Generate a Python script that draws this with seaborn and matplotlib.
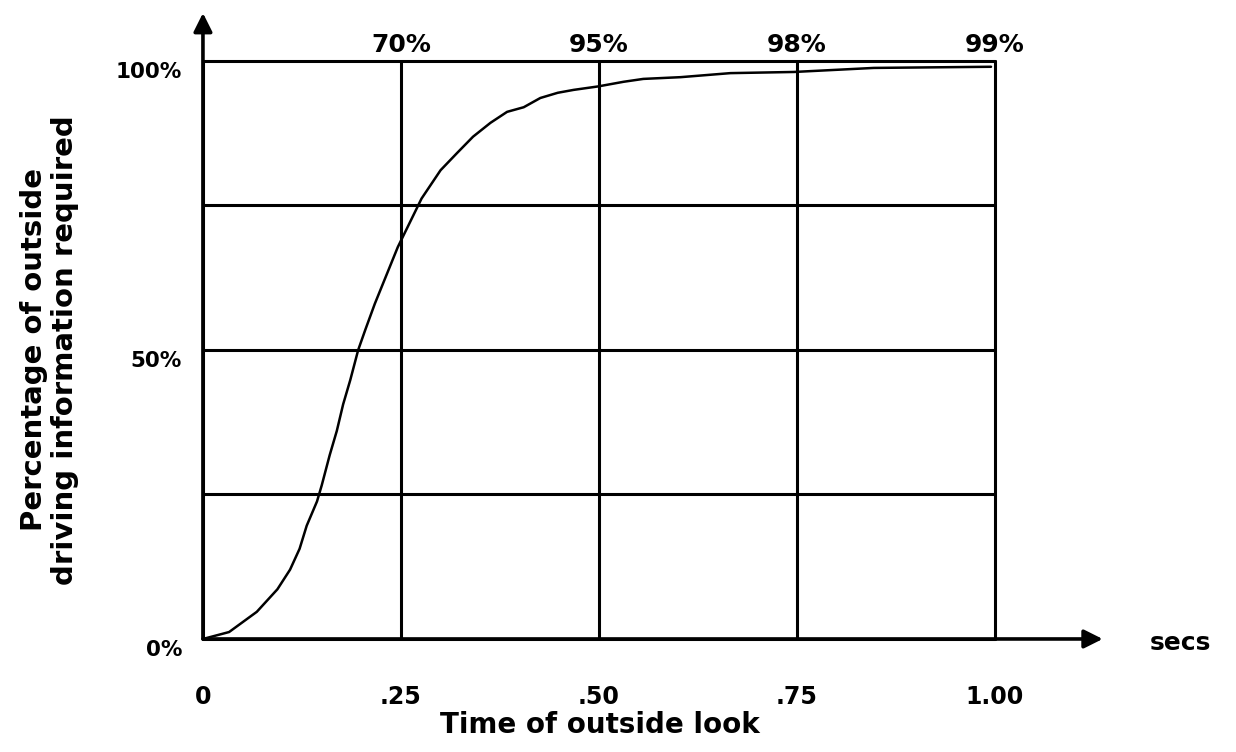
import matplotlib
matplotlib.use('Agg')
import matplotlib.pyplot as plt
from matplotlib.transforms import ScaledTranslation
import seaborn as sns
import pandas as pd

# curve
time_s = [0, 0.033, 0.068, 0.094, 0.110, 0.122, 0.131, 0.144, 0.150, 0.160,
          0.169, 0.177, 0.186, 0.196, 0.205, 0.217, 0.246, 0.276, 0.300,
          0.321, 0.341, 0.363, 0.384, 0.405, 0.426, 0.448, 0.468, 0.499, 0.531,
          0.556, 0.603, 0.666, 0.746, 0.847, 0.995]
pct_info = [0, 1.2, 4.7, 8.6, 12.0, 15.6, 19.6, 23.8, 26.6, 31.8,
            36.0, 40.6, 44.8, 50.0, 53.5, 58.0, 67.8, 76.2, 81.1,
            84.1, 86.9, 89.3, 91.2, 92.0, 93.6, 94.5, 95.0, 95.6, 96.4,
            96.9, 97.2, 97.9, 98.1, 98.8, 99.0]

x_ticks = [0, 0.25, 0.50, 0.75, 1.00]
x_labels = ['0', '.25', '.50', '.75', '1.00']
y_ticks = [0, 25, 50, 75, 100]
y_labels = ['0%', '', '50%', '', '100%']
top_labels = ['70%', '95%', '98%', '99%']

df = pd.DataFrame({'t': time_s, 'pct': pct_info})

sns.set_style('white')
plt.rcParams['font.family'] = ['DejaVu Sans']
plt.rcParams['font.weight'] = 'bold'
plt.rcParams['text.color'] = 'black'
plt.rcParams['xtick.color'] = 'black'
plt.rcParams['ytick.color'] = 'black'

fig = plt.figure(figsize=(12.36, 7.52), dpi=100)
ax = fig.add_axes([0.1642, 0.1503, 0.6408, 0.7686])

sns.lineplot(data=df, x='t', y='pct', color='black', linewidth=1.8, ax=ax)

ax.set_xlim(0, 1)
ax.set_ylim(0, 100)
for s in ax.spines.values():
    s.set_visible(False)

ax.set_xticks(x_ticks)
ax.set_xticklabels(x_labels, fontsize=17, fontweight='bold')
ax.set_yticks(y_ticks)
ax.set_yticklabels(y_labels, fontsize=15.5, fontweight='bold')
ax.tick_params(axis='x', length=0, pad=33, labelcolor='black')
ax.tick_params(axis='y', length=0, pad=15, labelcolor='black')
shift = ScaledTranslation(0, -9 / 100, fig.dpi_scale_trans)
for lab in ax.get_yticklabels():
    lab.set_transform(lab.get_transform() + shift)

ax.grid(True, color='black', linewidth=2.2)
for gl in ax.get_xgridlines() + ax.get_ygridlines():
    gl.set_clip_on(False)
ax.set_xlabel('')
ax.set_ylabel('')

# arrows for the axes
arrow = dict(arrowstyle='-|>', mutation_scale=28, lw=2.6, color='black',
             shrinkA=0, shrinkB=0)
ax.annotate('', xy=(0, 108.3), xytext=(0, 0), arrowprops=arrow,
            annotation_clip=False)
ax.annotate('', xy=(1.136, 0), xytext=(0, 0), arrowprops=arrow,
            annotation_clip=False)

for xv, lab in zip(x_ticks[1:], top_labels):
    ax.text(xv, 102.8, lab, ha='center', va='center', fontsize=18,
            fontweight='bold', color='black', clip_on=False)

ax.text(1.234, -0.7, 'secs', ha='center', va='center', fontsize=18,
        fontweight='bold', color='black', clip_on=False)

fig.text(0.485, 0.036, 'Time of outside look', ha='center', va='center',
         fontsize=20, fontweight='bold', color='black')
fig.text(0.040, 0.535, 'Percentage of outside\ndriving information required',
         ha='center', va='center', rotation=90, fontsize=21,
         fontweight='bold', linespacing=1.15, color='black')

plt.savefig('out.png', dpi=100)
plt.close()
